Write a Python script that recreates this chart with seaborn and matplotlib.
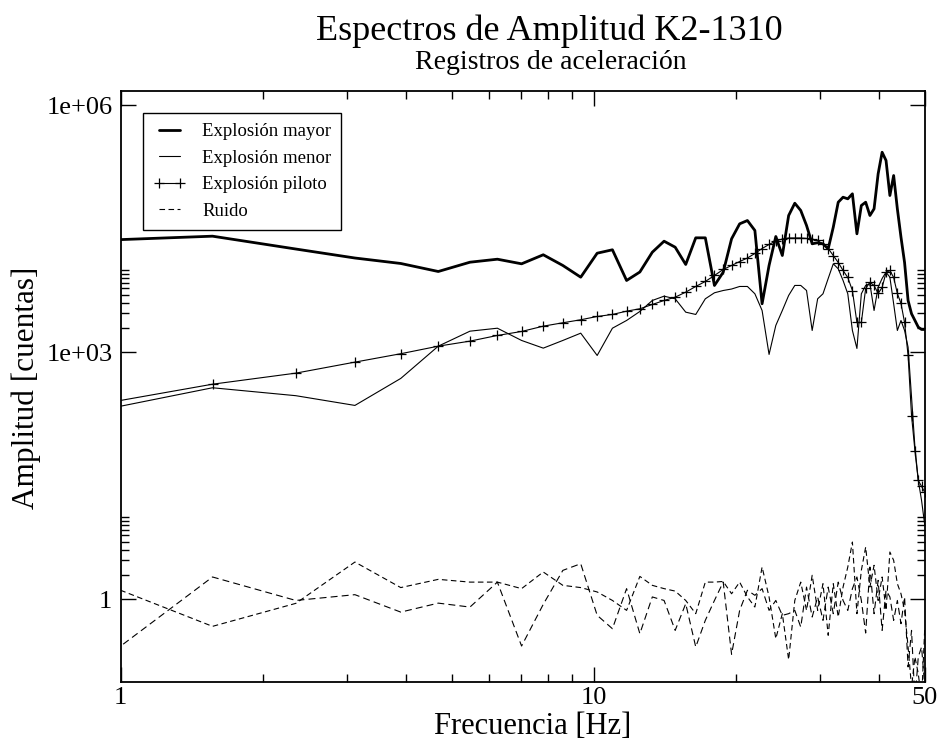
import matplotlib
matplotlib.use("Agg")
import matplotlib.pyplot as plt
import pandas as pd
import seaborn as sns
from matplotlib.ticker import FixedLocator, FixedFormatter, NullFormatter

# FFT frequency grid [Hz] (fs = 100 Hz, 128 samples)
freq = [0.781, 1.563, 2.344, 3.125, 3.906, 4.688, 5.469, 6.25, 7.031, 7.813,
        8.594, 9.375, 10.156, 10.938, 11.719, 12.5, 13.281, 14.063, 14.844, 15.625,
        16.406, 17.188, 17.969, 18.75, 19.531, 20.313, 21.094, 21.875, 22.656, 23.438,
        24.219, 25.0, 25.781, 26.563, 27.344, 28.125, 28.906, 29.688, 30.469, 31.25,
        32.031, 32.813, 33.594, 34.375, 35.156, 35.938, 36.719, 37.5, 38.281, 39.063,
        39.844, 40.625, 41.406, 42.188, 42.969, 43.75, 44.531, 45.313, 46.094, 46.875,
        47.656, 48.438, 49.219, 50.0]

mayor = [22250, 25820, 18030, 14020, 12030, 9615, 12470, 13560, 11920, 15350,
         11380, 8200, 16040, 17650, 7480, 9480, 16490, 22440, 18970, 11700,
         24660, 24660, 6500, 9430, 23990, 36480, 40000, 30270, 3900, 11380,
         25590, 15040, 46030, 64900, 52970, 34830, 20860, 21500, 20860, 18140,
         33190, 66770, 76800, 73420, 84470, 27590, 60920, 66770, 46030, 55500,
         147600, 270200, 214400, 80560, 140900, 55500, 25100, 12360, 4275, 2947,
         2444, 2027, 1900, 1900]

menor = [167, 372, 298, 227, 483, 1191, 1811, 1968, 1397, 1127,
         1397, 1713, 918, 1968, 2444, 3143, 4275, 4822, 4480, 3083,
         2891, 4480, 5300, 5650, 5890, 6325, 6325, 5155, 3230, 945,
         2125, 3230, 4920, 6510, 6510, 5650, 1847, 4480, 5155, 7910,
         11920, 10370, 7480, 5155, 1847, 1117, 5155, 6510, 6820, 3230,
         6200, 7910, 9430, 8200, 3897, 1847, 2444, 1847, 1158, 286,
         70.7, 27.9, 15.9, 7.9]

piloto = [203, 411, 560, 762, 964, 1191, 1371, 1607, 1796, 2084,
          2291, 2492, 2733, 2891, 3170, 3390, 3822, 4275, 4690, 5395,
          6325, 7276, 8606, 10170, 11380, 12710, 14020, 15910, 18290, 20470,
          22560, 23870, 24550, 24550, 24550, 24210, 23870, 22890, 20470, 18290,
          15040, 12360, 9890, 8130, 5650, 2310, 2310, 5980, 7080, 6510,
          5200, 6150, 9350, 9890, 8130, 5200, 3935, 2310, 918, 171,
          64, 27.9, 23.6, 19.9]

ruido_1 = [2.25, 0.47, 0.894, 2.84, 1.39, 1.75, 1.62, 1.62, 1.35, 2.15,
           1.48, 1.39, 1.23, 0.97, 0.735, 1.90, 1.48, 1.35, 1.26, 0.97,
           0.67, 1.62, 1.62, 1.65, 1.17, 1.62, 1.07, 0.807, 2.47, 1.07,
           0.333, 0.67, 0.185, 0.97, 1.62, 0.735, 1.96, 0.735, 1.55, 0.366,
           1.55, 0.61, 1.41, 2.47, 4.97, 0.67, 2.25, 4.32, 1.41, 2.59,
           0.97, 1.87, 0.735, 3.76, 2.98, 1.55, 1.17, 0.735, 0.264, 0.086,
           0.2, 0.125, 0.059, 0.461]

ruido_2 = [0.093, 1.87, 0.97, 1.14, 0.70, 0.90, 0.806, 1.62, 0.271, 0.87,
           2.25, 2.71, 0.64, 0.44, 1.35, 0.383, 1.07, 0.97, 0.42, 0.886,
           0.264, 0.556, 0.97, 1.62, 0.215, 0.735, 1.29, 1.12, 1.35, 0.735,
           0.97, 0.639, 0.67, 0.735, 0.461, 1.41, 0.61, 1.07, 0.556, 1.41,
           0.67, 1.62, 0.97, 0.735, 1.35, 1.87, 0.97, 0.39, 2.47, 0.67,
           1.70, 0.42, 1.29, 1.07, 0.556, 0.97, 0.506, 1.07, 0.151, 0.42,
           0.059, 0.2, 0.264, 0.086]

sns.set_style("ticks")
plt.rcParams['font.family'] = ['Liberation Serif', 'DejaVu Serif']
plt.rcParams['lines.scale_dashes'] = False
plt.rcParams['text.color'] = 'k'
plt.rcParams['xtick.color'] = 'k'
plt.rcParams['ytick.color'] = 'k'
plt.rcParams['axes.labelcolor'] = 'k'

fig = plt.figure(figsize=(9.43, 7.45), dpi=100)
ax = fig.add_axes([0.128, 0.085, 0.8527, 0.7929])

data = pd.DataFrame({'f': freq, 'mayor': mayor, 'menor': menor, 'piloto': piloto,
                     'r1': ruido_1, 'r2': ruido_2})

sns.lineplot(data=data, x='f', y='mayor', ax=ax, color='k', lw=2.0,
             label='Explosión mayor')
sns.lineplot(data=data, x='f', y='menor', ax=ax, color='k', lw=0.8,
             label='Explosión menor')
sns.lineplot(data=data, x='f', y='piloto', ax=ax, color='k', lw=0.8,
             marker='+', markersize=7, markeredgewidth=0.9, markeredgecolor='k',
             label='Explosión piloto')
sns.lineplot(data=data, x='f', y='r1', ax=ax, color='k', lw=0.8,
             linestyle=(0, (4, 2.5)), label='Ruido')
sns.lineplot(data=data, x='f', y='r2', ax=ax, color='k', lw=0.8,
             linestyle=(0, (5, 3)), label='_nolegend_')

ax.set_xscale('log')
ax.set_yscale('log')
ax.set_xlim(1, 50)
ax.set_ylim(0.1, 1.5e6)

ax.xaxis.set_major_locator(FixedLocator([1, 10, 50]))
ax.xaxis.set_major_formatter(FixedFormatter(['1', '10', '50']))
ax.xaxis.set_minor_locator(FixedLocator([2, 3, 4, 5, 6, 7, 8, 9, 20, 30, 40]))
ax.xaxis.set_minor_formatter(NullFormatter())
ax.yaxis.set_major_locator(FixedLocator([1, 1e3, 1e6]))
ax.yaxis.set_major_formatter(FixedFormatter(['1', '1e+03', '1e+06']))
ax.yaxis.set_minor_locator(FixedLocator([2, 3, 4, 5, 6, 7, 8, 9, 10,
                                         2e3, 3e3, 4e3, 5e3, 6e3, 7e3, 8e3, 9e3, 1e4]))
ax.yaxis.set_minor_formatter(NullFormatter())

ax.tick_params(which='both', direction='in', top=True, right=True,
               width=1.0, color='k', labelsize=19, labelcolor='k')
ax.tick_params(axis='x', pad=4)
ax.tick_params(axis='y', pad=6)
ax.tick_params(which='major', length=10.8)
ax.tick_params(which='minor', length=5.8)
for s in ax.spines.values():
    s.set_linewidth(1.3)
    s.set_color('k')

ax.set_xlabel('')
ax.set_ylabel('')

leg = ax.legend(loc='upper left', bbox_to_anchor=(0.0277, 0.9628), borderaxespad=0,
                frameon=True, fancybox=False, edgecolor='k', framealpha=1,
                fontsize=13.5, handlelength=1.7, handletextpad=0.9,
                labelspacing=0.5, borderpad=0.55, numpoints=2)
leg.get_frame().set_linewidth(1.0)
for t in leg.get_texts():
    t.set_color('k')

fig.text(0.583, 0.946, 'Espectros de Amplitud K2-1310', ha='center', va='baseline',
         fontsize=26)
fig.text(0.584, 0.907, 'Registros de aceleración', ha='center', va='baseline',
         fontsize=20)
fig.text(0.565, 0.015, 'Frecuencia [Hz]', ha='center', va='baseline', fontsize=22)
fig.text(0.028, 0.479, 'Amplitud [cuentas]', ha='center', va='center',
         rotation=90, fontsize=22.5)

fig.savefig('out.png', dpi=100)
